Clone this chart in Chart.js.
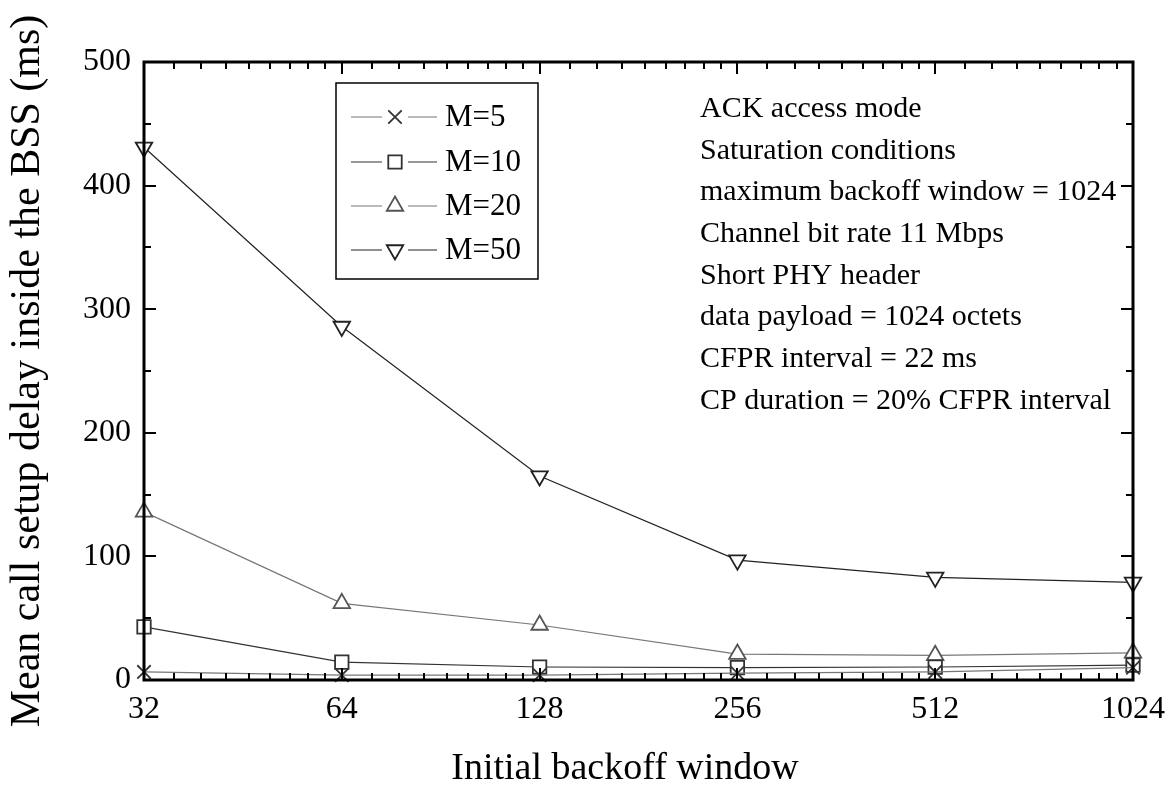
<!DOCTYPE html>
<html>
<head>
<meta charset="utf-8">
<script src="https://cdn.jsdelivr.net/npm/chart.js@4/dist/chart.umd.min.js"></script>
<style>
    html, body { margin: 0; padding: 0; background: #fff; }
    #wrap { width: 1175px; height: 785px; }
</style>
</head>
<body>
<div id="wrap"><canvas id="chart" width="1175" height="785"></canvas></div>
<script>
const windows = [32, 64, 128, 256, 512, 1024];
const m5 = [6.5, 4, 4, 5.5, 6.5, 10];
const m10 = [43, 14.5, 10.5, 10, 10.5, 12];
const m20 = [136, 62, 44.5, 21, 20, 22];
const m50 = [431, 286, 165, 97, 83, 79];
const yTicks = [0, 100, 200, 300, 400, 500];
const xTitle = 'Initial backoff window';
const notes = [
    'ACK access mode',
    'Saturation conditions',
    'maximum backoff window = 1024',
    'Channel bit rate 11 Mbps',
    'Short PHY header',
    'data payload = 1024 octets',
    'CFPR interval = 22 ms',
    'CP duration = 20% CFPR interval'
];

const FONT = "'Liberation Serif', 'Times New Roman', serif";

function series(label, values, lineColor, markColor, style, rotation) {
    return {
        label: label,
        data: values.map((v, i) => ({x: windows[i], y: v})),
        borderColor: lineColor,
        borderWidth: 1.2,
        pointStyle: style,
        pointRotation: rotation || 0,
        pointRadius: 9.5,
        pointBorderWidth: 1.8,
        pointBorderColor: markColor,
        pointBackgroundColor: '#fff',
        tension: 0,
        clip: false
    };
}

// frame, inward ticks on all four sides, legend box, notes, x title
const decorPlugin = {
    id: 'decor',
    afterDraw(chart) {
        const ctx = chart.ctx;
        const a = chart.chartArea;
        const xs = chart.scales.x;
        const ys = chart.scales.y;
        ctx.save();
        ctx.strokeStyle = '#000';

        // ticks
        ctx.lineWidth = 2;
        ctx.beginPath();
        for (let v = 0; v <= 500; v += 50) {
            const y = Math.round(ys.getPixelForValue(v));
            const len = v % 100 === 0 ? 12 : 7;
            ctx.moveTo(a.left, y); ctx.lineTo(a.left + len, y);
            ctx.moveTo(a.right, y); ctx.lineTo(a.right - len, y);
        }
        windows.forEach((w, i) => {
            const x = Math.round(xs.getPixelForValue(w));
            ctx.moveTo(x, a.bottom); ctx.lineTo(x, a.bottom - 12);
            ctx.moveTo(x, a.top); ctx.lineTo(x, a.top + 12);
            if (i === windows.length - 1) return;
            for (let k = 1; k <= 8; k++) {
                const xm = Math.round(xs.getPixelForValue(w * (1 + k / 9)));
                ctx.moveTo(xm, a.bottom); ctx.lineTo(xm, a.bottom - 7);
                ctx.moveTo(xm, a.top); ctx.lineTo(xm, a.top + 7);
            }
        });
        ctx.stroke();

        // frame
        ctx.lineWidth = 3;
        ctx.strokeRect(a.left, a.top, a.right - a.left, a.bottom - a.top);

        // legend
        ctx.lineWidth = 1.5;
        ctx.fillStyle = '#fff';
        ctx.fillRect(336, 83, 202, 196);
        ctx.strokeRect(336, 83, 202, 196);
        const rows = [117, 162, 206, 250];
        chart.data.datasets.forEach((ds, i) => {
            const y = rows[i];
            ctx.strokeStyle = ds.borderColor;
            ctx.lineWidth = 1.2;
            ctx.beginPath();
            ctx.moveTo(351, y); ctx.lineTo(382, y);
            ctx.moveTo(408, y); ctx.lineTo(437, y);
            ctx.stroke();
            ctx.strokeStyle = ds.pointBorderColor;
            ctx.fillStyle = '#fff';
            ctx.lineWidth = 1.8;
            Chart.helpers.drawPoint(ctx, {
                pointStyle: ds.pointStyle,
                rotation: ds.pointRotation,
                radius: 9.5,
                borderWidth: 1.8
            }, 395, y);
            ctx.fillStyle = '#000';
            ctx.font = '31px ' + FONT;
            ctx.textAlign = 'left';
            ctx.textBaseline = 'middle';
            ctx.fillText(ds.label, 445, y + 1);
        });

        // notes
        ctx.fillStyle = '#000';
        ctx.font = '30px ' + FONT;
        ctx.textAlign = 'left';
        ctx.textBaseline = 'middle';
        notes.forEach((t, i) => ctx.fillText(t, 700, 109 + i * 41.7));

        // x title (sits a bit left of the plot centre in the original)
        ctx.font = '38px ' + FONT;
        ctx.textAlign = 'center';
        ctx.textBaseline = 'alphabetic';
        ctx.fillText(xTitle, 625, 779);
        ctx.restore();
    }
};

new Chart(document.getElementById('chart'), {
    type: 'line',
    data: {
        datasets: [
            series('M=5', m5, '#777', '#333', 'crossRot'),
            series('M=10', m10, '#333', '#333', 'rect'),
            series('M=20', m20, '#777', '#555', 'triangle'),
            series('M=50', m50, '#222', '#222', 'triangle', 180)
        ]
    },
    options: {
        responsive: false,
        animation: false,
        devicePixelRatio: 1,
        layout: {padding: {left: 0, top: 62, right: 37, bottom: 0}},
        plugins: {legend: {display: false}, tooltip: {enabled: false}},
        scales: {
            x: {
                type: 'logarithmic',
                min: 32,
                max: 1024,
                afterBuildTicks: (scale) => { scale.ticks = windows.map(v => ({value: v})); },
                afterFit: (scale) => { scale.height = 105; },
                grid: {display: false, drawTicks: false, tickLength: 0},
                border: {display: false},
                ticks: {
                    autoSkip: false,
                    maxRotation: 0,
                    padding: 10,
                    color: '#000',
                    font: {family: FONT, size: 32},
                    callback: (v) => String(v)
                },
                title: {display: false}
            },
            y: {
                min: 0,
                max: 500,
                afterBuildTicks: (scale) => { scale.ticks = yTicks.map(v => ({value: v})); },
                afterFit: (scale) => { scale.width = 144; },
                grid: {display: false, drawTicks: false, tickLength: 0},
                border: {display: false},
                ticks: {
                    padding: 13,
                    color: '#000',
                    font: {family: FONT, size: 32}
                },
                title: {
                    display: true,
                    text: 'Mean call setup delay inside the BSS (ms)',
                    color: '#000',
                    font: {family: FONT, size: 42, lineHeight: 1},
                    padding: {top: 7, bottom: 0}
                }
            }
        }
    },
    plugins: [decorPlugin]
});
</script>
</body>
</html>
